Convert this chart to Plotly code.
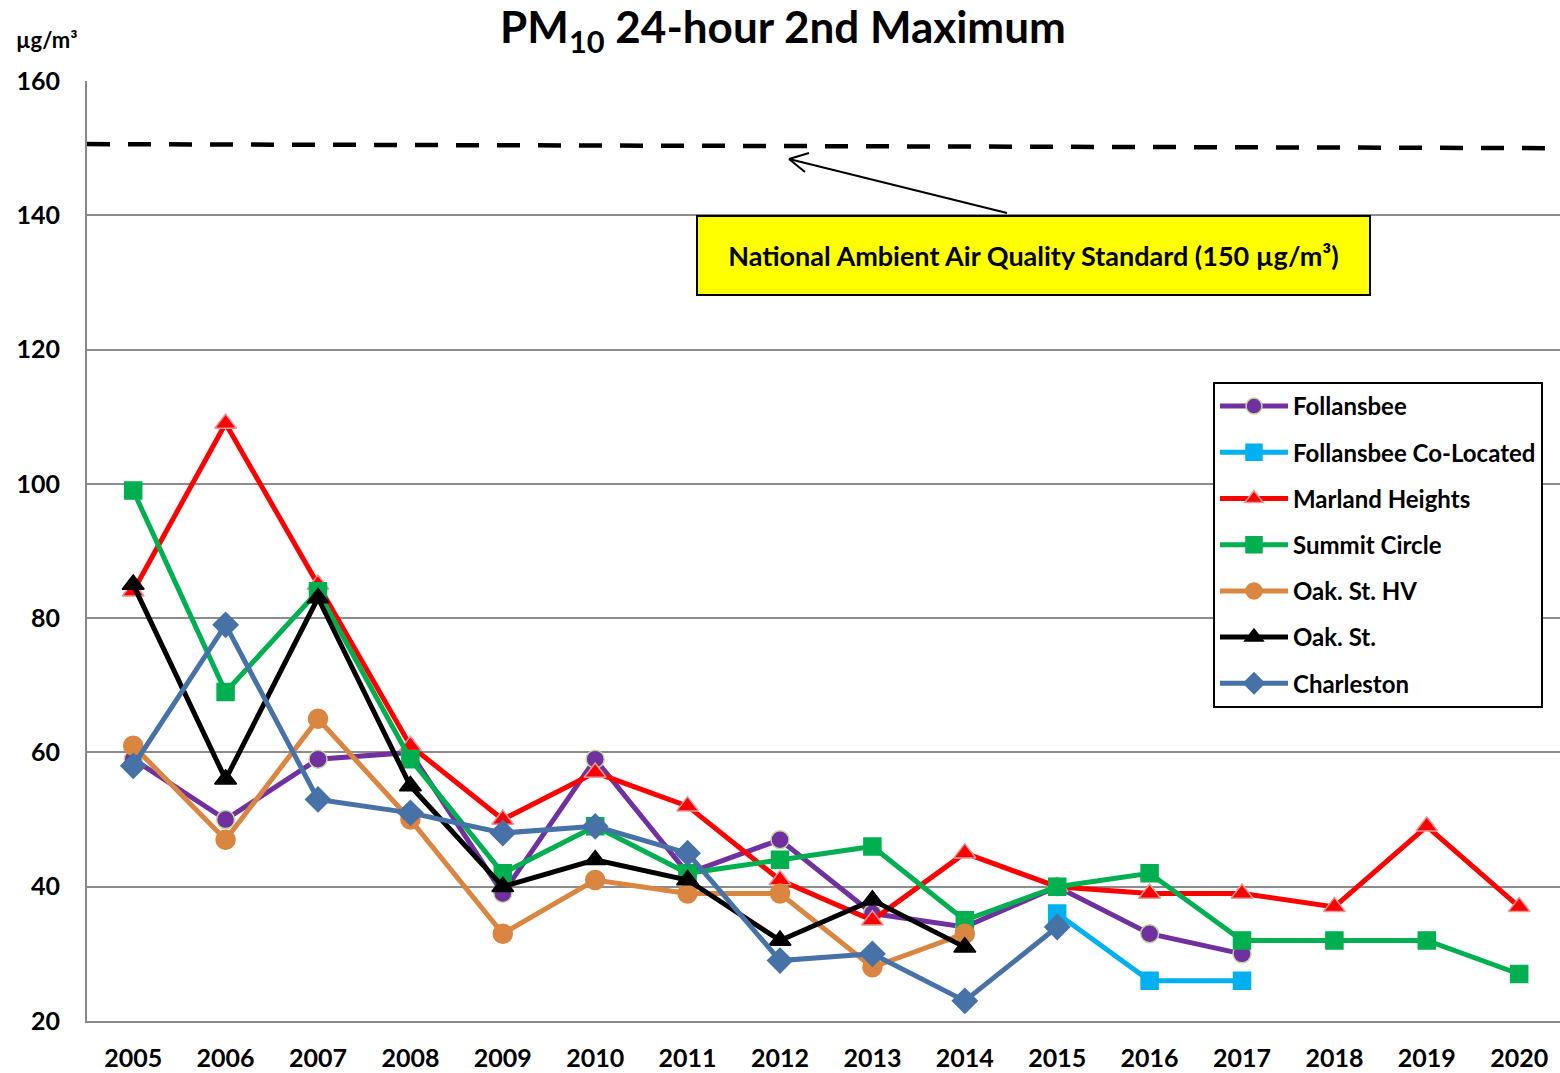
import plotly.graph_objects as go

years = list(range(2005, 2021))

follansbee = [59, 50, 59, 60, 39, 59, 42, 47, 36, 34, 40, 33, 30, None, None, None]
follansbee_co = [None, None, None, None, None, None, None, None, None, None, 36, 26, 26, None, None, None]
marland = [84, 109, 85, 61, 50, 57, 52, 41, 35, 45, 40, 39, 39, 37, 49, 37]
summit = [99, 69, 84, 59, 42, 49, 42, 44, 46, 35, 40, 42, 32, 32, 32, 27]
oak_hv = [61, 47, 65, 50, 33, 41, 39, 39, 28, 33, None, None, None, None, None, None]
oak_st = [85, 56, 83, 55, 40, 44, 41, 32, 38, 31, None, None, None, None, None, None]
charleston = [58, 79, 53, 51, 48, 49, 45, 29, 30, 23, 34, None, None, None, None, None]

naaqs = 150
y_ticks = [20, 40, 60, 80, 100, 120, 140, 160]

FONT = "Lato"

series = [
    ("Follansbee", follansbee, "#7030A0", "circle", "#C3D69B", 18),
    ("Follansbee Co-Located", follansbee_co, "#00B0F0", "square", "#00B0F0", 17),
    ("Marland Heights", marland, "#FF0000", "triangle-up", "#E39A9A", 19),
    ("Summit Circle", summit, "#00B050", "square", "#00B050", 17),
    ("Oak. St. HV", oak_hv, "#DA8540", "circle", "#DA8540", 19),
    ("Oak. St.", oak_st, "#000000", "triangle-up", "#000000", 19),
    ("Charleston", charleston, "#4672A8", "diamond", "#4672A8", 19),
]

# plot-area geometry (pixels) used only to place decorations
L, R, T, B = 87, 1560, 81, 1021
X0, X1 = 2004.5, 2004.5 + (R - L) / 92.4


def px_x(px):
    return X0 + (px - L) / (R - L) * (X1 - X0)


def px_y(py):
    return 20 + (B - py) / (B - T) * 140


fig = go.Figure()
for name, vals, col, sym, lc, sz in series:
    fig.add_trace(go.Scatter(
        x=years, y=vals, name=f"<b>{name}</b>", mode="lines+markers",
        legendgroup=name,
        line=dict(color=col, width=5),
        marker=dict(symbol=sym, size=sz, color=col, line=dict(color=lc, width=1.5)),
        connectgaps=False,
    ))

# NAAQS dashed line
fig.add_shape(type="line", xref="x", yref="y", x0=X0, x1=px_x(1545),
              y0=naaqs + 0.6, y1=naaqs, line=dict(color="black", width=4.5, dash="23px,18px"))

# Arrow body and open head
hx, hy = 789, 159
fig.add_shape(type="line", xref="x", yref="y", x0=px_x(1007), y0=px_y(213), x1=px_x(hx), y1=px_y(hy),
              line=dict(color="black", width=2))
fig.add_shape(type="line", xref="x", yref="y", x0=px_x(809), y0=px_y(153), x1=px_x(hx), y1=px_y(hy),
              line=dict(color="black", width=2))
fig.add_shape(type="line", xref="x", yref="y", x0=px_x(805), y0=px_y(172), x1=px_x(hx), y1=px_y(hy),
              line=dict(color="black", width=2))

fig.add_annotation(
    x=(1033.5 - L) / (R - L), y=(B - 255.5) / (B - T), xref="paper", yref="paper",
    xanchor="center", yanchor="middle",
    text="<b>National Ambient Air Quality Standard (150 µg/m³)</b>",
    showarrow=False, bgcolor="#FFFF00", bordercolor="black", borderwidth=2,
    borderpad=0, width=671, height=77,
    font=dict(family=FONT, size=27, color="black"),
)

# unit label
fig.add_annotation(x=(14 - L) / (R - L), y=(B - 40) / (B - T), xref="paper", yref="paper",
                   text="<b>µg/m³</b>", showarrow=False, xanchor="left", yanchor="middle",
                   font=dict(family=FONT, size=22, color="black"))

fig.update_layout(
    width=1560, height=1073,
    margin=dict(l=L, r=1560 - R, t=T, b=1073 - B, autoexpand=False),
    plot_bgcolor="white", paper_bgcolor="white",
    font=dict(family=FONT, color="black"),
    title=dict(text="<b>PM<sub>10</sub> 24-hour 2nd Maximum</b>", x=783 / 1560, xanchor="center",
               y=1 - 28 / 1073, yanchor="middle", font=dict(family=FONT, size=44, color="black")),
    showlegend=True,
    legend=dict(x=(1213 - L) / (R - L), y=(B - 382) / (B - T), xanchor="left", yanchor="top",
                bordercolor="black", borderwidth=2, bgcolor="white",
                font=dict(family=FONT, size=24, color="black"),
                tracegroupgap=12, itemwidth=68),
)

fig.update_xaxes(range=[X0, X1], tickmode="array", tickvals=years,
                 ticktext=[f"<b>{y}</b>" for y in years],
                 tickfont=dict(family=FONT, size=25, color="black"),
                 showgrid=False, showline=True, linecolor="#888888", linewidth=2,
                 ticks="", ticklabelstandoff=14, zeroline=False, automargin=False)
fig.update_yaxes(range=[20, 160], tickmode="array", tickvals=y_ticks,
                 ticktext=[f"<b>{v}</b>" for v in y_ticks],
                 tickfont=dict(family=FONT, size=25, color="black"),
                 showgrid=True, gridcolor="#8C8C8C", gridwidth=2,
                 showline=True, linecolor="#888888", linewidth=2,
                 ticks="", ticklabelstandoff=20, zeroline=False, automargin=False)

fig.write_html("out.html", config={"displayModeBar": False},
               post_script="document.body.style.margin='0';document.body.style.overflow='hidden';")
